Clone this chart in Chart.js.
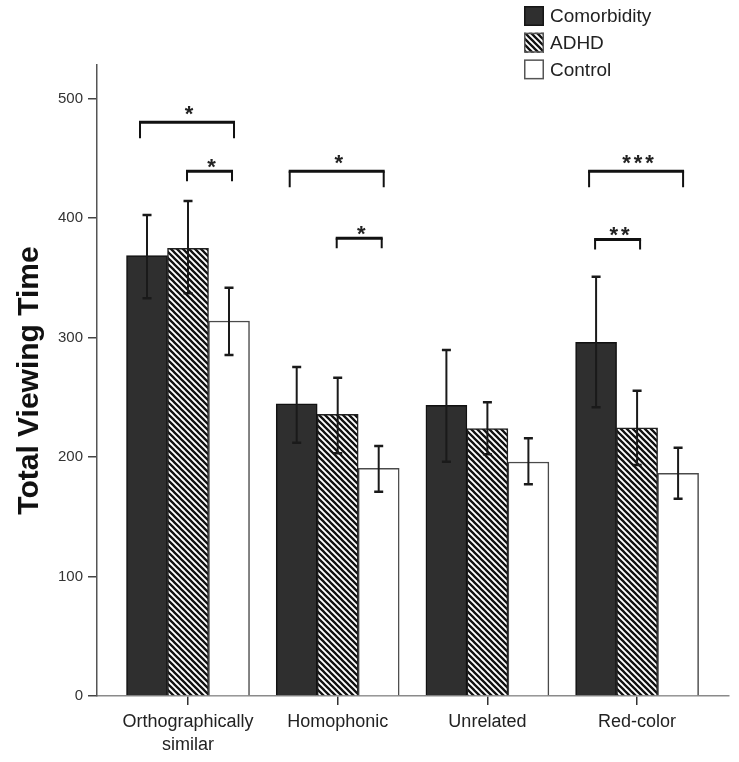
<!DOCTYPE html>
<html>
<head>
<meta charset="utf-8">
<script src="https://cdn.jsdelivr.net/npm/chart.js@4/dist/chart.umd.min.js"></script>
<style>
  html, body { margin: 0; padding: 0; background: #ffffff; }
  #wrap { width: 739px; height: 762px; }
</style>
</head>
<body>
<div id="wrap"><canvas id="c" width="739" height="762"></canvas></div>
<script>
// ---------------- data ----------------
const categories = [["Orthographically", "similar"], "Homophonic", "Unrelated", "Red-color"];
const seriesNames = ["Comorbidity", "ADHD", "Control"];

const comorbidity = [368.5, 244.4, 243.3, 296.0];
const adhd        = [374.6, 235.7, 223.7, 224.5];
const control     = [313.8, 190.5, 195.8, 186.4];

const comorbidityUpper = [402.5, 275.3, 289.5, 350.9];
const comorbidityLower = [332.8, 212.0, 196.0, 241.6];
const adhdUpper        = [414.2, 266.4, 245.8, 255.5];
const adhdLower        = [337.0, 203.1, 202.3, 193.3];
const controlUpper     = [341.7, 209.2, 215.6, 207.8];
const controlLower     = [285.4, 171.0, 177.2, 165.0];

const yTicks = [0, 100, 200, 300, 400, 500];

// significance brackets: category, from series, to series, height (value units), label
const sigCategory   = [0, 0, 1, 1, 3, 3];
const sigFromSeries = [0, 1, 0, 1, 0, 0];
const sigToSeries   = [2, 2, 2, 2, 2, 1];
const sigLevel      = [480, 439, 439, 383, 439, 382];
const sigLabel      = ["*", "*", "*", "*", "***", "**"];

// ---------------- styles ----------------
const FONT = "'Liberation Sans', Arial, Helvetica, sans-serif";
Chart.defaults.font.family = FONT;

function makeHatch() {
  const s = 6;
  const c = document.createElement('canvas');
  c.width = s; c.height = s;
  const g = c.getContext('2d');
  g.fillStyle = '#ffffff';
  g.fillRect(0, 0, s, s);
  g.strokeStyle = '#111111';
  g.lineWidth = 2.3;
  g.beginPath();
  g.moveTo(-1, -1); g.lineTo(s + 1, s + 1);
  g.moveTo(-1, s - 1); g.lineTo(1, s + 1);
  g.moveTo(s - 1, -1); g.lineTo(s + 1, 1);
  g.stroke();
  return g.createPattern(c, 'repeat');
}
const hatch = makeHatch();

const values = [comorbidity, adhd, control];
const uppers = [comorbidityUpper, adhdUpper, controlUpper];
const lowers = [comorbidityLower, adhdLower, controlLower];
const fills = ['#2f2f2f', hatch, '#ffffff'];
const borders = ['#111111', '#222222', '#4a4a4a'];

const datasets = values.map((arr, d) => ({
  label: seriesNames[d],
  data: arr.map((v, i) => ({ x: i, y: v })),
  backgroundColor: fills[d],
  borderColor: borders[d],
  borderWidth: 1.5,
  barThickness: 41,
}));

// ---------------- plugins ----------------
const errorBars = {
  id: 'errorBars',
  afterDatasetsDraw(chart) {
    const ctx = chart.ctx;
    const ys = chart.scales.y;
    ctx.save();
    ctx.strokeStyle = '#1a1a1a';
    values.forEach((arr, d) => {
      const meta = chart.getDatasetMeta(d);
      arr.forEach((v, i) => {
        const x = meta.data[i].x;
        const yU = ys.getPixelForValue(uppers[d][i]);
        const yL = ys.getPixelForValue(lowers[d][i]);
        ctx.lineWidth = 2;
        ctx.beginPath();
        ctx.moveTo(x, yU); ctx.lineTo(x, yL);
        ctx.stroke();
        ctx.lineWidth = 2.5;
        ctx.beginPath();
        ctx.moveTo(x - 4.5, yU); ctx.lineTo(x + 4.5, yU);
        ctx.moveTo(x - 4.5, yL); ctx.lineTo(x + 4.5, yL);
        ctx.stroke();
      });
    });
    ctx.restore();
  }
};

const sigBrackets = {
  id: 'sigBrackets',
  afterDatasetsDraw(chart) {
    const ctx = chart.ctx;
    const ys = chart.scales.y;
    ctx.save();
    ctx.strokeStyle = '#111111';
    ctx.fillStyle = '#222222';
    sigCategory.forEach((cat, k) => {
      const a = chart.getDatasetMeta(sigFromSeries[k]).data[cat].x;
      const b = chart.getDatasetMeta(sigToSeries[k]).data[cat].x;
      const wide = (sigToSeries[k] - sigFromSeries[k]) >= 2;
      const x1 = a - (wide ? 7 : 1);
      const x2 = b + (wide ? 5 : 3);
      const y = ys.getPixelForValue(sigLevel[k]);
      const leg = wide ? 16 : 10;
      ctx.lineCap = 'butt';
      ctx.lineWidth = 2;
      ctx.beginPath();
      ctx.moveTo(x1, y + leg); ctx.lineTo(x1, y);
      ctx.moveTo(x2, y + leg); ctx.lineTo(x2, y);
      ctx.stroke();
      ctx.lineWidth = 3;
      ctx.beginPath();
      ctx.moveTo(x1 - 1, y); ctx.lineTo(x2 + 1, y);
      ctx.stroke();
      // stars
      const n = sigLabel[k].length;
      const cx = (x1 + x2) / 2 + 2;
      const cy = y - (wide ? 14 : 10);
      const fs = 22;
      ctx.font = 'bold ' + fs + 'px ' + FONT;
      ctx.textAlign = 'center';
      ctx.textBaseline = 'alphabetic';
      for (let s = 0; s < n; s++) {
        const sx = cx + (s - (n - 1) / 2) * 11.5;
        ctx.fillText('*', sx, cy + 0.58 * fs);
      }
    });
    ctx.restore();
  }
};

const customLegend = {
  id: 'customLegend',
  afterDraw(chart) {
    const ctx = chart.ctx;
    ctx.save();
    const bx = 524, by0 = 6, size = 20, gap = 26.7;
    chart.data.datasets.forEach((ds, d) => {
      const y = by0 + d * gap;
      ctx.fillStyle = ds.backgroundColor;
      ctx.fillRect(bx, y, size, size);
      ctx.lineWidth = 1.5;
      ctx.strokeStyle = d === 0 ? '#151515' : '#555555';
      ctx.strokeRect(bx + 0.75, y + 0.75, size - 1.5, size - 1.5);
      ctx.fillStyle = '#222222';
      ctx.font = '19px ' + FONT;
      ctx.textAlign = 'left';
      ctx.textBaseline = 'middle';
      ctx.fillText(ds.label, bx + size + 6, y + size / 2 + 1);
    });
    ctx.restore();
  }
};

// ---------------- chart ----------------
new Chart(document.getElementById('c'), {
  type: 'bar',
  data: { datasets },
  options: {
    responsive: false,
    devicePixelRatio: 1,
    animation: false,
    layout: { padding: { top: 65, right: 10, left: 0, bottom: 0 } },
    plugins: {
      legend: { display: false },
      tooltip: { enabled: false },
    },
    scales: {
      x: {
        type: 'linear',
        offset: false,
        min: -0.608,
        max: 3.614,
        afterBuildTicks(scale) {
          scale.ticks = categories.map((c, i) => ({ value: i }));
        },
        afterFit(scale) { scale.height = 66; },
        ticks: {
          autoSkip: false,
          maxRotation: 0,
          color: '#222222',
          font: { size: 18, lineHeight: 1.25 },
          padding: 6,
          callback: (v) => categories[v],
        },
        grid: {
          display: true,
          offset: false,
          drawOnChartArea: false,
          drawTicks: true,
          tickLength: 9,
          color: '#333333',
          lineWidth: 1.5,
        },
        border: { display: true, color: '#8a8a8a', width: 1.5 },
      },
      y: {
        min: 0,
        max: 528,
        afterBuildTicks(scale) {
          scale.ticks = yTicks.map(v => ({ value: v }));
        },
        afterFit(scale) { scale.width = 97; },
        ticks: {
          color: '#333333',
          font: { size: 15 },
          padding: 5,
        },
        grid: {
          display: true,
          drawOnChartArea: false,
          drawTicks: true,
          tickLength: 9,
          color: '#444444',
          lineWidth: 1.5,
        },
        border: { display: true, color: '#555555', width: 1.5 },
        title: {
          display: true,
          text: 'Total Viewing Time',
          color: '#111111',
          font: { size: 30, weight: 'bold' },
          padding: { top: 12, bottom: 0 },
        },
      },
    },
  },
  plugins: [errorBars, sigBrackets, customLegend],
});
</script>
</body>
</html>
